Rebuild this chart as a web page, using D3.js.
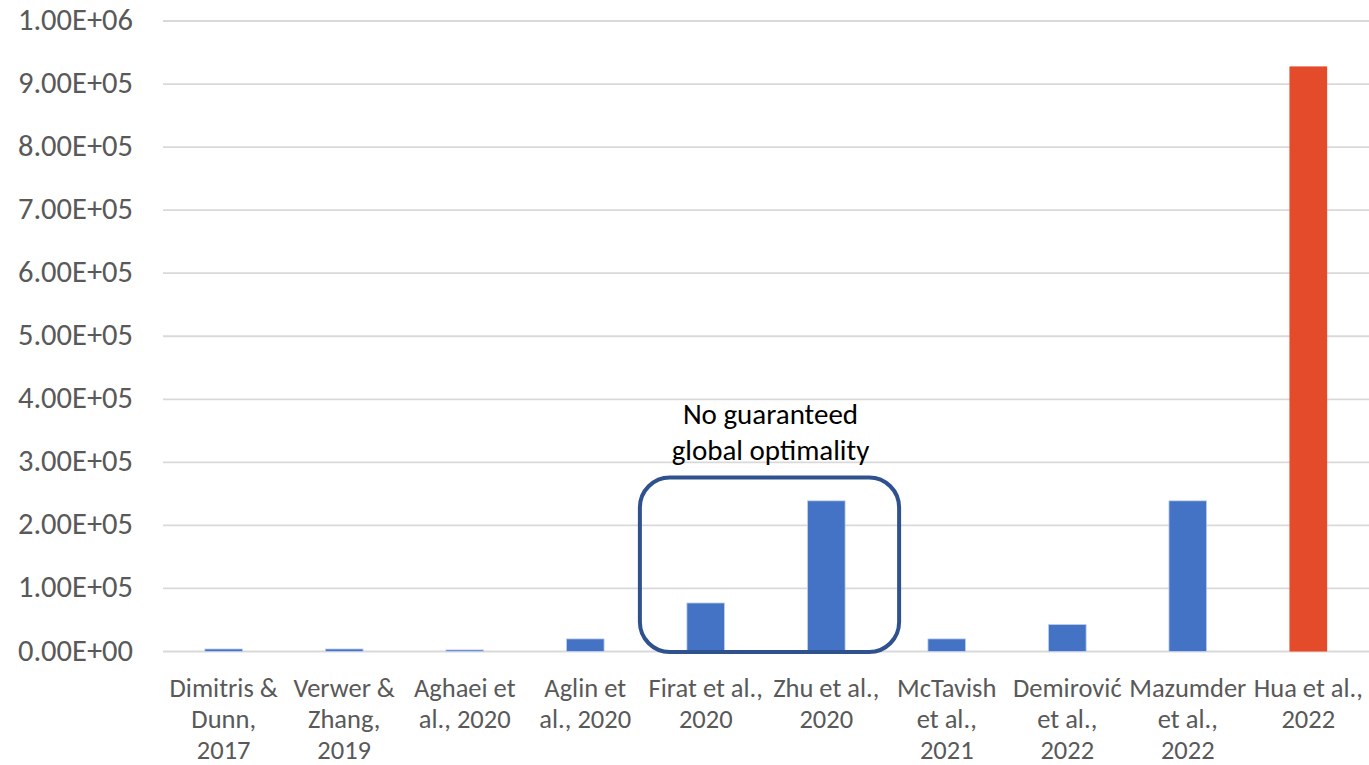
<!DOCTYPE html>
<html>
<head>
<meta charset="utf-8">
<script src="https://cdn.jsdelivr.net/npm/d3@7"></script>
<style>
  html, body { margin: 0; padding: 0; background: #ffffff; }
  svg { display: block; }
  text { font-family: Carlito, Calibri, Lato, "Open Sans", sans-serif; }
</style>
</head>
<body>
<svg id="chart" width="1369" height="765"></svg>
<script>
// Methods (label lines) and the problem size each one handles
const categories = [
  ["Dimitris &", "Dunn,", "2017"],
  ["Verwer &", "Zhang,", "2019"],
  ["Aghaei et", "al., 2020"],
  ["Aglin et", "al., 2020"],
  ["Firat et al.,", "2020"],
  ["Zhu et al.,", "2020"],
  ["McTavish", "et al.,", "2021"],
  ["Demirović", "et al.,", "2022"],
  ["Mazumder", "et al.,", "2022"],
  ["Hua et al.,", "2022"]
];
const values = [4000, 4000, 2500, 20000, 77000, 239000, 20000, 43000, 239000, 928000];
const highlighted = ["Hua et al.,\n2022"];
const tickValues = [0, 100000, 200000, 300000, 400000, 500000, 600000, 700000, 800000, 900000, 1000000];
const tickLabels = ["0.00E+00", "1.00E+05", "2.00E+05", "3.00E+05", "4.00E+05", "5.00E+05",
                    "6.00E+05", "7.00E+05", "8.00E+05", "9.00E+05", "1.00E+06"];
const groupedMethods = ["Firat et al.,\n2020", "Zhu et al.,\n2020"];
const groupNote = ["No guaranteed", "global optimality"];

const keys = categories.map(c => c.join("\n"));
const svg = d3.select("#chart");

const x = d3.scaleBand().domain(keys).range([163.5, 1368.5]).paddingInner(0.687).paddingOuter(0.343);
const y = d3.scaleLinear().domain([0, 1000000]).range([651.5, 21]);

// Horizontal gridlines
svg.append("g")
  .selectAll("line")
  .data(tickValues)
  .join("line")
  .attr("x1", 163).attr("x2", 1369)
  .attr("y1", d => y(d)).attr("y2", d => y(d))
  .attr("stroke", "#d9d9d9").attr("stroke-width", 1.8);

// Value axis labels
svg.append("g")
  .selectAll("text")
  .data(tickValues)
  .join("text")
  .attr("x", 133).attr("y", d => y(d) + 9)
  .attr("text-anchor", "end")
  .attr("font-size", 30.5)
  .attr("fill", "#595959")
  .text((d, i) => tickLabels[i]);

// Bars
svg.append("g")
  .selectAll("rect")
  .data(values)
  .join("rect")
  .attr("x", (d, i) => x(keys[i]))
  .attr("width", x.bandwidth())
  .attr("y", d => y(d))
  .attr("height", d => y(0) - y(d))
  .attr("fill", (d, i) => highlighted.includes(keys[i]) ? "#e34b2b" : "#4472c4")
  .attr("stroke", (d, i) => highlighted.includes(keys[i]) ? "none" : "#c5d3ee")
  .attr("stroke-width", 0.8);

// Category labels
const catG = svg.append("g");
categories.forEach((lines, i) => {
  const cx = x(keys[i]) + x.bandwidth() / 2;
  const t = catG.append("text")
    .attr("text-anchor", "middle")
    .attr("font-size", 26.5)
    .attr("fill", "#595959");
  lines.forEach((ln, j) => {
    t.append("tspan").attr("x", cx).attr("y", 697 + j * 31).text(ln);
  });
});

// Rounded frame around the heuristic methods, with its note
const gx0 = x(groupedMethods[0]) - 47;
const gx1 = x(groupedMethods[1]) + x.bandwidth() + 54;
const gyTop = y(276000);
const gyBot = y(0) + 0.5;
svg.append("rect")
  .attr("x", gx0).attr("y", gyTop)
  .attr("width", gx1 - gx0).attr("height", gyBot - gyTop)
  .attr("rx", 30).attr("ry", 30)
  .attr("fill", "none")
  .attr("stroke", "#2f528f")
  .attr("stroke-width", 4);

const note = svg.append("text")
  .attr("text-anchor", "middle")
  .attr("font-size", 29)
  .attr("fill", "#000000");
groupNote.forEach((ln, j) => {
  note.append("tspan").attr("x", (gx0 + gx1) / 2 + 1).attr("y", 424 + j * 36).text(ln);
});
</script>
</body>
</html>
